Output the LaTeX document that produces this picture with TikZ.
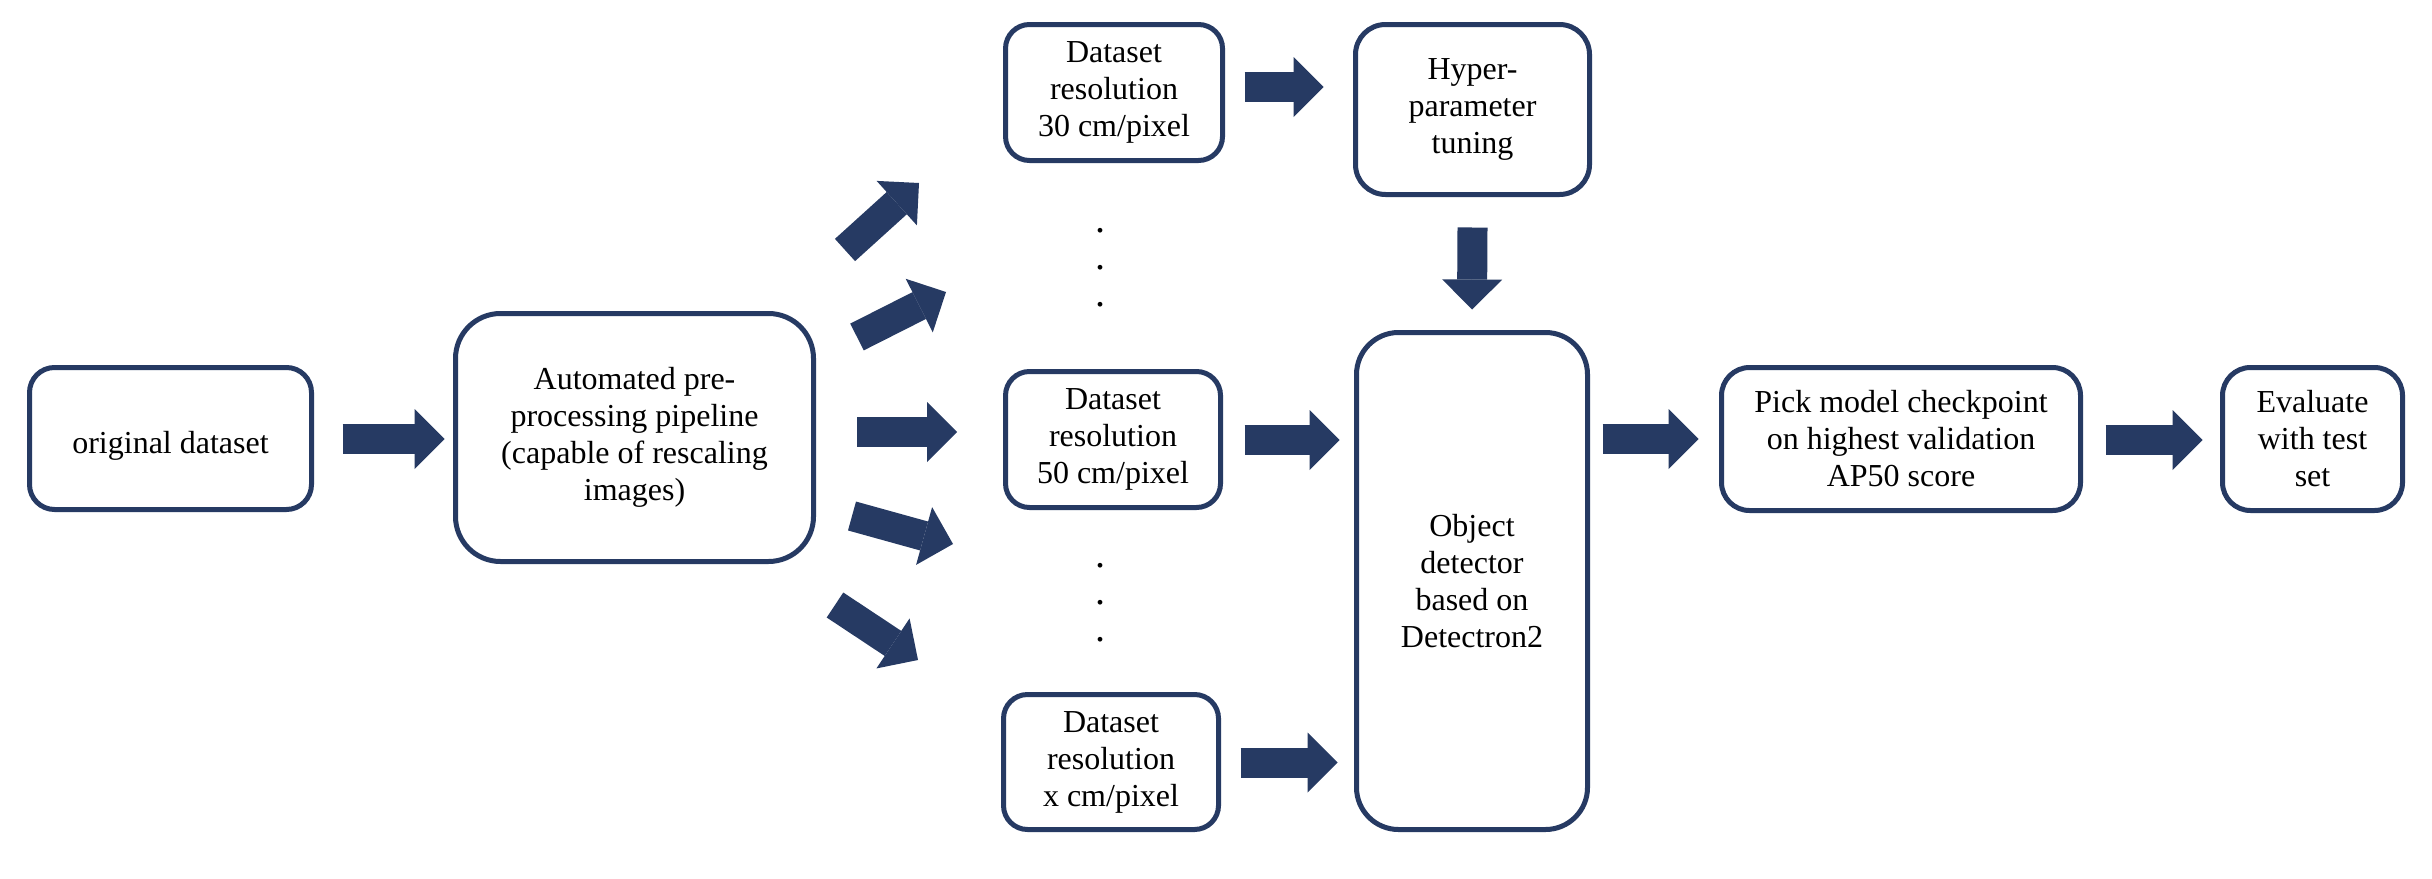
\documentclass[tikz,border=0pt]{standalone}
\usepackage{fontspec}
\setmainfont{Liberation Serif}
\usetikzlibrary{arrows.meta,calc}
\definecolor{navy}{RGB}{38,58,99}
\tikzset{
  box/.style={draw=navy, line width=5pt, fill=white, align=center, inner sep=4pt,
    font=\fontsize{32}{37}\selectfont, text=black,
    execute at begin node={\rule{0pt}{37pt}}},
  blk/.style={draw=navy, line width=30pt,
    -{Triangle[length=30pt,width=60pt,line width=0pt]}},
  dotnode/.style={inner sep=0pt, font=\fontsize{40}{37}\selectfont}
}
\begin{document}
\begin{tikzpicture}[x=1pt,y=-1pt]
\useasboundingbox[fill=white] (0,0) rectangle (2432,878);
% boxes
\node[box, rounded corners=25pt, minimum width=282pt, minimum height=142pt] (orig) at (170.5,438.5) {original dataset};
\node[box, rounded corners=45pt, minimum width=358pt, minimum height=248pt] (pre) at (634.5,437.5) {Automated pre-\\processing pipeline\\(capable of rescaling\\images)};
\node[box, rounded corners=24pt, minimum width=217pt, minimum height=136pt] (d30) at (1114,92.5) {Dataset\\resolution\\30 cm/pixel};
\node[box, rounded corners=30pt, minimum width=234pt, minimum height=170pt] (hyp) at (1472.5,109.5) {Hyper-\\parameter\\tuning};
\node[box, rounded corners=24pt, minimum width=215pt, minimum height=136pt] (d50) at (1113,439.5) {Dataset\\resolution\\50 cm/pixel};
\node[box, rounded corners=24pt, minimum width=215pt, minimum height=135pt] (dx) at (1111,762) {Dataset\\resolution\\x cm/pixel};
\node[box, rounded corners=42pt, minimum width=231pt, minimum height=497pt] (obj) at (1472,581) {Object\\detector\\based on\\Detectron2};
\node[box, rounded corners=28pt, minimum width=359pt, minimum height=143pt] (pick) at (1901,439) {Pick model checkpoint\\on highest validation\\AP50 score};
\node[box, rounded corners=28pt, minimum width=180pt, minimum height=143pt] (eval) at (2312.5,439) {Evaluate\\with test\\set};
% dots
\node[dotnode] (u1) at (1100,231) {.};
\node[dotnode] (u2) at (1100,268) {.};
\node[dotnode] (u3) at (1100,305) {.};
\node[dotnode] (l1) at (1100,566) {.};
\node[dotnode] (l2) at (1100,603) {.};
\node[dotnode] (l3) at (1100,640) {.};
% fan arrows
\coordinate (f1s) at (845,250); \coordinate (f1e) at (919,183);
\coordinate (f2s) at (857,337); \coordinate (f2e) at (946,292);
\coordinate (f3s) at (857,432); \coordinate (f3e) at (957,432);
\coordinate (f4s) at (852,516); \coordinate (f4e) at (953,544);
\coordinate (f5s) at (835,605); \coordinate (f5e) at (918,660);
\draw[blk] (f1s) -- (f1e);
\draw[blk] (f2s) -- (f2e);
\draw[blk] (f3s) -- (f3e);
\draw[blk] (f4s) -- (f4e);
\draw[blk] (f5s) -- (f5e);
% main arrows
\draw[blk] ($(orig.east)+(28.5,0.5)$) -- ($(orig.east)+(130.5,0.5)$);
\draw[blk] ($(d30.east)+(19.5,-5.5)$) -- ($(hyp.west|-d30.east)+(-29.5,-5.5)$);
\draw[blk] ($(hyp.south)+(0,30.5)$) -- ($(obj.north)+(0,-20.5)$);
\draw[blk] ($(d50.east)+(21.5,0.5)$) -- ($(obj.west|-d50.east)+(-14.5,0.5)$);
\draw[blk] ($(dx.east)+(19.5,0.5)$) -- ($(obj.west|-dx.east)+(-16.5,0.5)$);
\draw[blk] ($(obj.east|-pick.west)+(12.5,0)$) -- ($(pick.west)+(-20.5,0)$);
\draw[blk] ($(pick.east)+(22.5,1)$) -- ($(eval.west)+(-17.5,1)$);
\end{tikzpicture}
\end{document}
